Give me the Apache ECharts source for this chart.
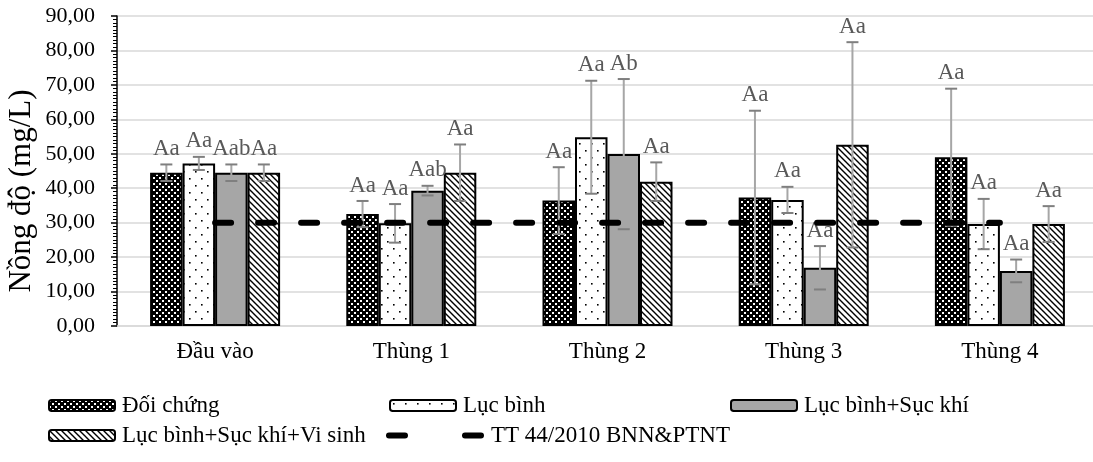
<!DOCTYPE html>
<html>
<head>
<meta charset="utf-8">
<script src="https://cdn.jsdelivr.net/npm/echarts@6/dist/echarts.min.js"></script>
<style>html,body{margin:0;padding:0;background:#fff}#c{width:1093px;height:462px}</style>
</head>
<body>
<div id="c"></div>
<script>
// ---- data ----
const categories = ['Đầu vào', 'Thùng 1', 'Thùng 2', 'Thùng 3', 'Thùng 4'];
const seriesNames = ['Đối chứng', 'Lục bình', 'Lục bình+Sục khí', 'Lục bình+Sục khí+Vi sinh'];
const lineName = 'TT 44/2010 BNN&PTNT';
const doiChung = [44.5, 32.5, 36.4, 37.3, 49.0];
const lucBinh = [47.2, 29.8, 54.8, 36.6, 29.6];
const sucKhi = [44.5, 39.3, 49.9, 16.9, 16.0];
const viSinh = [44.5, 44.5, 41.9, 52.6, 29.6];
const errDoiChung = [2.4, 3.8, 9.7, 25.2, 19.9];
const errLucBinh = [1.9, 5.6, 16.4, 3.8, 7.3];
const errSucKhi = [2.4, 1.4, 21.8, 6.3, 3.3];
const errViSinh = [2.4, 8.2, 5.6, 29.8, 5.2];
const lblDoiChung = ['Aa', 'Aa', 'Aa', 'Aa', 'Aa'];
const lblLucBinh = ['Aa', 'Aa', 'Aa', 'Aa', 'Aa'];
const lblSucKhi = ['Aab', 'Aab', 'Ab', 'Aa', 'Aa'];
const lblViSinh = ['Aa', 'Aa', 'Aa', 'Aa', 'Aa'];
const standard = [30, 30, 30, 30, 30];
const yTickLabels = ['0,00', '10,00', '20,00', '30,00', '40,00', '50,00', '60,00', '70,00', '80,00', '90,00'];
const yTitle = 'Nồng độ (mg/L)';

const values = [doiChung, lucBinh, sucKhi, viSinh];
const errors = [errDoiChung, errLucBinh, errSucKhi, errViSinh];
const labels = [lblDoiChung, lblLucBinh, lblSucKhi, lblViSinh];

// ---- patterns ----
function makeCanvas(w, h, draw) {
  const c = document.createElement('canvas');
  c.width = w; c.height = h;
  const ctx = c.getContext('2d');
  draw(ctx, w, h);
  return c;
}
const checker = makeCanvas(6, 6, (ctx) => {
  ctx.fillStyle = '#000'; ctx.fillRect(0, 0, 6, 6);
  ctx.fillStyle = '#fff'; ctx.fillRect(0, 0, 2, 2); ctx.fillRect(3, 3, 2, 2);
});
const dots = makeCanvas(12, 14, (ctx) => {
  ctx.fillStyle = '#fff'; ctx.fillRect(0, 0, 12, 14);
  ctx.fillStyle = '#000'; ctx.fillRect(3, 3, 1.6, 1.6); ctx.fillRect(9, 10, 1.6, 1.6);
});
const diag = makeCanvas(6, 6, (ctx) => {
  ctx.fillStyle = '#fff'; ctx.fillRect(0, 0, 6, 6);
  ctx.strokeStyle = '#000'; ctx.lineWidth = 1.4;
  ctx.beginPath();
  ctx.moveTo(-1, -1); ctx.lineTo(7, 7);
  ctx.moveTo(-1, 5); ctx.lineTo(1, 7);
  ctx.moveTo(5, -1); ctx.lineTo(7, 1);
  ctx.stroke();
});
const fills = [
  { image: checker, repeat: 'repeat' },
  { image: dots, repeat: 'repeat' },
  '#a6a6a6',
  { image: diag, repeat: 'repeat' }
];

const FONT = 'Liberation Serif';
const BAR_W = 32.5;
const offsets = [-1.5, -0.5, 0.5, 1.5].map(k => k * BAR_W);

const series = [];
values.forEach((vals, s) => {
  series.push({
    name: seriesNames[s], type: 'bar', data: vals,
    barWidth: BAR_W, barGap: '0%', z: 2,
    itemStyle: { color: fills[s], borderColor: '#000', borderWidth: 2 },
    emphasis: { disabled: true }, animation: false
  });
});
values.forEach((vals, s) => {
  series.push({
    type: 'custom', z: 3, silent: true, animation: false,
    data: vals.map((v, i) => [i, v, errors[s][i]]),
    encode: { x: 0, y: 1 },
    renderItem: function (params, api) {
      const i = api.value(0), v = api.value(1), e = api.value(2);
      const top = api.coord([i, v + e]);
      const bot = api.coord([i, v - e]);
      const x = top[0] + offsets[s];
      const cap = 6;
      return {
        type: 'group',
        children: [
          { type: 'line', shape: { x1: x, y1: top[1], x2: x, y2: bot[1] }, style: { stroke: '#a6a6a6', lineWidth: 2 } },
          { type: 'line', shape: { x1: x - cap, y1: top[1], x2: x + cap, y2: top[1] }, style: { stroke: '#7f7f7f', lineWidth: 2 } },
          { type: 'line', shape: { x1: x - cap, y1: bot[1], x2: x + cap, y2: bot[1] }, style: { stroke: '#7f7f7f', lineWidth: 2 } },
          { type: 'text', x: x, y: top[1] - 4, style: { text: labels[s][params.dataIndex], fill: '#595959', font: '23px "' + FONT + '"', align: 'center', verticalAlign: 'bottom' } }
        ]
      };
    }
  });
});
series.push({
  name: lineName, type: 'line', data: standard, z: 5, symbol: 'none',
  color: '#000',
  lineStyle: { color: '#000', width: 6, type: [16, 27], cap: 'round' },
  itemStyle: { color: '#000' },
  emphasis: { disabled: true }, animation: false
});

function legendAt(name, left, top, extra) {
  return Object.assign({
    data: [name], left: left, top: top, itemWidth: 66, itemHeight: 11, padding: 0,
    textStyle: { fontFamily: FONT, fontSize: 23, color: '#000', padding: [0, 0, 0, 2] },
    selectedMode: false
  }, extra || {});
}
const dashIcon = 'path://M3,0H19A3,3,0,0,1,19,6H3A3,3,0,0,1,3,0Z M79,0H95A3,3,0,0,1,95,6H79A3,3,0,0,1,79,0Z';

const option = {
  backgroundColor: '#fff',
  animation: false,
  grid: { left: 117, top: 16, width: 981, height: 310, containLabel: false, outerBoundsMode: 'none' },
  xAxis: {
    type: 'category', data: categories, boundaryGap: true,
    axisLine: { lineStyle: { color: '#d9d9d9', width: 1.5 } },
    axisTick: { show: false },
    axisLabel: { fontFamily: FONT, fontSize: 23, color: '#000', margin: 14 }
  },
  yAxis: {
    type: 'value', min: 0, max: 90, interval: 10,
    axisLine: { show: true, lineStyle: { color: '#000', width: 1.5 } },
    axisTick: { show: true, length: 6, lineStyle: { color: '#000', width: 1.5 } },
    minorTick: { show: true, splitNumber: 10, length: 4, lineStyle: { color: '#000', width: 1 } },
    splitLine: { lineStyle: { color: '#d9d9d9', width: 1.5 } },
    axisLabel: { fontFamily: FONT, fontSize: 22, color: '#000', margin: 22,
      formatter: v => yTickLabels[Math.round(v / 10)] }
  },
  legend: [
    legendAt(seriesNames[0], 48, 394),
    legendAt(seriesNames[1], 389, 394),
    legendAt(seriesNames[2], 730, 394),
    legendAt(seriesNames[3], 48, 424),
    legendAt(lineName, 386, 424, {
      data: [{ name: lineName, icon: dashIcon, itemStyle: { color: '#000', borderWidth: 0 } }],
      itemWidth: 98, itemHeight: 6
    })
  ],
  graphic: [{
    type: 'text', x: 22, y: 191, rotation: Math.PI / 2,
    style: { text: yTitle, font: '31px "' + FONT + '"', fill: '#000', align: 'center', verticalAlign: 'middle' }
  }],
  series: series
};
const chart = echarts.init(document.getElementById('c'), null, { renderer: 'canvas' });
chart.setOption(option);
</script>
</body>
</html>
